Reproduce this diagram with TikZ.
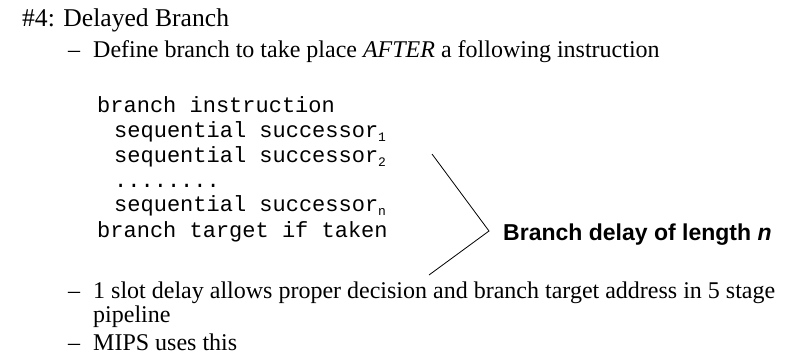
\documentclass[tikz,border=0pt]{standalone}
\usepackage{fontspec}
\setmainfont{Liberation Serif}
\newfontfamily\codefont{Liberation Mono}
\newfontfamily\labelfont{Liberation Sans}
\tikzset{
  txt/.style={anchor=base west,inner sep=0pt,font=\fontsize{24}{26}\selectfont},
  ttl/.style={anchor=base west,inner sep=0pt,font=\fontsize{25.6}{28}\selectfont},
  code/.style={anchor=base west,inner sep=0pt,font=\codefont\fontsize{22}{24}\selectfont},
  lbl/.style={anchor=base west,inner sep=0pt,font=\labelfont\bfseries\fontsize{23}{25}\selectfont},
  brk/.style={draw=black,line width=0.8pt}
}
\newcommand{\csub}[1]{\raisebox{-0.2em}[0pt][0pt]{\fontsize{13}{13}\selectfont #1}}
\begin{document}
\begin{tikzpicture}[x=1pt,y=-1pt]
\useasboundingbox (0,0) rectangle (787,360);
\node[ttl] (title) at (22,26) {\#4: Delayed Branch};
\node[txt] (d1) at (68,57) {–};
\node[txt] (b1) at (93,57) {Define branch to take place \textit{AFTER} a following instruction};
\node[code] (c1) at (97,112) {branch instruction};
\node[code] (c2) at (114,137) {sequential successor\csub{1}};
\node[code] (c3) at (114,162) {sequential successor\csub{2}};
\node[code] (c4) at (114,187) {........};
\node[code] (c5) at (114,211) {sequential successor\csub{n}};
\node[code] (c6) at (97,237) {branch target if taken};
\node[lbl] (lab) at (503,240) {Branch delay of length \textit{n}};
\coordinate (bt) at (432,154);
\coordinate (bv) at (489,231);
\coordinate (bb) at (429,275);
\draw[brk] (bt) -- (bv) -- (bb);
\node[txt] (d2) at (68,298) {–};
\node[txt] (b2) at (93,298) {1 slot delay allows proper decision and branch target address in 5 stage};
\node[txt] (b2b) at (93,322) {pipeline};
\node[txt] (d3) at (68,350) {–};
\node[txt] (b3) at (93,350) {MIPS uses this};
\end{tikzpicture}
\end{document}
